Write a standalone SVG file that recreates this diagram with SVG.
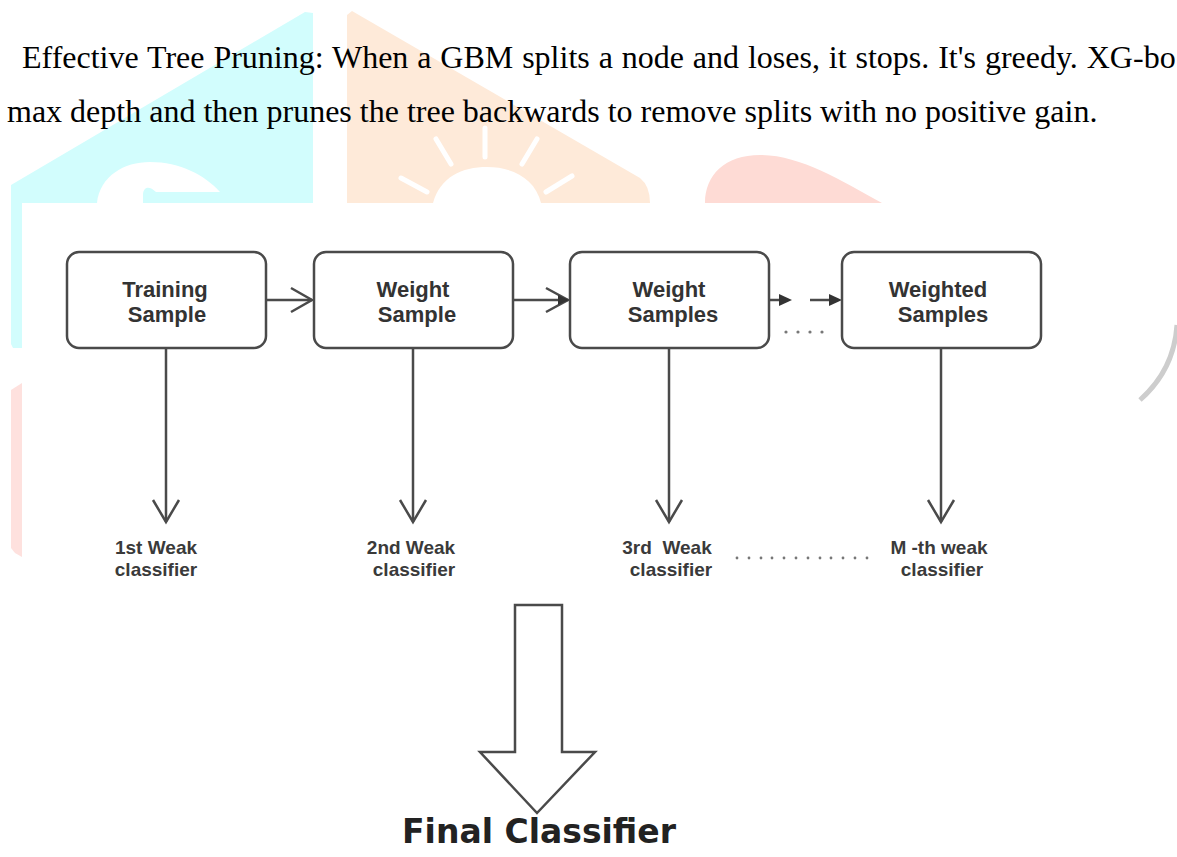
<svg xmlns="http://www.w3.org/2000/svg" width="1177" height="857" viewBox="0 0 1177 857">
<style>
.wc{fill:#d2fdfd}
.wo{fill:#feead9}
.wr{fill:#fedbd5}
.wp{fill:#fee1de}
.ray{stroke:#fff;stroke-width:5;stroke-linecap:round}
.body{font-family:"Liberation Serif","Times New Roman",serif;font-size:32px;fill:#000}
.box{fill:#fff;stroke:#4a4a4a;stroke-width:2.5}
.bt{font-family:"Liberation Sans",Arial,sans-serif;font-weight:bold;font-size:22px;fill:#333;text-anchor:middle}
.lt{font-family:"Liberation Sans",Arial,sans-serif;font-weight:bold;font-size:19px;fill:#3a3a3a;text-anchor:middle}
.ft{font-family:"DejaVu Sans",Verdana,sans-serif;font-weight:bold;font-size:33px;fill:#222;text-anchor:middle}
.ln{stroke:#4a4a4a;stroke-width:2.5;fill:none}
.hd{stroke:#4a4a4a;stroke-width:2.5;fill:none;stroke-linejoin:miter}
.fh{fill:#333}
.dot{fill:#777}
</style>
<rect width="1177" height="857" fill="#fff"/>
<g id="watermark">
  <path class="wc" d="M11,185 L305,12 L313,13 L313,203 L22,203 L22,348 L13,348 L11,344 Z"/>
  <path fill="#fff" d="M97,203 C100,176 124,162 150,162 C180,162 205,175 220,192 L156,192 C149,185 143,187 143,195 L143,203 Z"/>
  <path class="wo" d="M347,203 L347,15 L352,11 L640,178 Q650,186 650,203 Z"/>
  <path fill="#fff" d="M433,203 C440,177 462,167 487,167 C512,167 535,178 541,203 Z"/>
  <line class="ray" x1="485" y1="128" x2="485" y2="157"/>
  <line class="ray" x1="436" y1="139" x2="451" y2="164"/>
  <line class="ray" x1="537" y1="139" x2="522" y2="164"/>
  <line class="ray" x1="401" y1="178" x2="427" y2="192"/>
  <line class="ray" x1="572" y1="176" x2="546" y2="192"/>
  <path class="wr" d="M705,203 C705,175 725,155 760,155 C800,155 840,180 882,203 Z"/>
  <path class="wp" d="M11,390 L22,383 L22,557 L15,553 L11,548 Z"/>
  <path d="M1177,325 Q1174,370 1140,400" fill="none" stroke="#cdcdcd" stroke-width="5"/>
</g>
<g id="paragraph">
  <text class="body" x="22" y="68" word-spacing="0.9">Effective Tree Pruning: When a GBM splits a node and loses, it stops. It's greedy. XG-bo</text>
  <text class="body" x="7" y="122">max depth and then prunes the tree backwards to remove splits with no positive gain.</text>
</g>
<g id="connectors">
  <line class="ln" x1="266" y1="300" x2="312" y2="300"/>
  <polyline class="hd" points="291,288 312,300 291,312"/>
  <line class="ln" x1="513" y1="300" x2="568" y2="300"/>
  <polyline class="hd" points="546,288 568,300 546,312"/>
  <path class="fh" d="M558,295 L569,300 L558,305 Z"/>
  <line class="ln" x1="769" y1="300" x2="782" y2="300"/>
  <path class="fh" d="M779,294 L792,300 L779,306 Z"/>
  <line class="ln" x1="810" y1="300" x2="832" y2="300"/>
  <path class="fh" d="M829,294 L842,300 L829,306 Z"/>
  <circle class="dot" cx="786" cy="332" r="1.6"/>
  <circle class="dot" cx="798" cy="332" r="1.6"/>
  <circle class="dot" cx="810" cy="332" r="1.6"/>
  <circle class="dot" cx="822" cy="332" r="1.6"/>
  <line class="ln" x1="166" y1="348" x2="166" y2="522"/>
  <polyline class="hd" points="153,500 166,522 179,500"/>
  <line class="ln" x1="413" y1="348" x2="413" y2="522"/>
  <polyline class="hd" points="400,500 413,522 426,500"/>
  <line class="ln" x1="669" y1="348" x2="669" y2="522"/>
  <polyline class="hd" points="656,500 669,522 682,500"/>
  <line class="ln" x1="941" y1="348" x2="941" y2="522"/>
  <polyline class="hd" points="928,500 941,522 954,500"/>
  <g class="dot">
    <circle cx="737" cy="558" r="1.4"/><circle cx="749" cy="558" r="1.4"/><circle cx="761" cy="558" r="1.4"/>
    <circle cx="772" cy="558" r="1.4"/><circle cx="784" cy="558" r="1.4"/><circle cx="796" cy="558" r="1.4"/>
    <circle cx="808" cy="558" r="1.4"/><circle cx="820" cy="558" r="1.4"/><circle cx="831" cy="558" r="1.4"/>
    <circle cx="843" cy="558" r="1.4"/><circle cx="855" cy="558" r="1.4"/><circle cx="867" cy="558" r="1.4"/>
  </g>
  <path d="M515,605 L562,605 L562,752 L595,752 L537,813 L480,752 L515,752 Z" fill="#fff" stroke="#4a4a4a" stroke-width="2.5" stroke-linejoin="miter"/>
</g>
<g id="node-training">
  <rect class="box" x="67" y="252" width="199" height="96" rx="12"/>
  <text class="bt" x="165" y="297">Training</text>
  <text class="bt" x="167" y="322">Sample</text>
</g>
<g id="node-weight-sample">
  <rect class="box" x="314" y="252" width="199" height="96" rx="12"/>
  <text class="bt" x="413" y="297">Weight</text>
  <text class="bt" x="417" y="322">Sample</text>
</g>
<g id="node-weight-samples">
  <rect class="box" x="570" y="252" width="199" height="96" rx="12"/>
  <text class="bt" x="669" y="297">Weight</text>
  <text class="bt" x="673" y="322">Samples</text>
</g>
<g id="node-weighted-samples">
  <rect class="box" x="842" y="252" width="199" height="96" rx="12"/>
  <text class="bt" x="938" y="297">Weighted</text>
  <text class="bt" x="943" y="322">Samples</text>
</g>
<g id="label-1">
  <text class="lt" x="156" y="554">1st Weak</text>
  <text class="lt" x="156" y="576">classifier</text>
</g>
<g id="label-2">
  <text class="lt" x="411" y="554">2nd Weak</text>
  <text class="lt" x="414" y="576">classifier</text>
</g>
<g id="label-3">
  <text class="lt" x="667" y="554">3rd&#160; Weak</text>
  <text class="lt" x="671" y="576">classifier</text>
</g>
<g id="label-m">
  <text class="lt" x="939" y="554">M -th weak</text>
  <text class="lt" x="942" y="576">classifier</text>
</g>
<g id="final">
  <text class="ft" x="539" y="843">Final Classifier</text>
</g>
</svg>
